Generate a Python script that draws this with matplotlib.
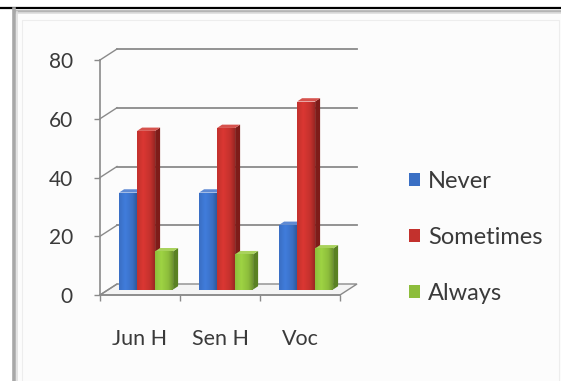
import numpy as np
import matplotlib
matplotlib.use("Agg")
import matplotlib.pyplot as plt
from matplotlib.patches import Polygon, Rectangle
from matplotlib.lines import Line2D
from matplotlib.colors import to_rgb

# ---- data ----
categories = ["Jun H", "Sen H", "Voc"]
series_names = ["Never", "Sometimes", "Always"]
never = [33, 33, 22]
sometimes = [54, 55, 64]
always = [13, 12, 14]
y_ticks = [0, 20, 40, 60, 80]

series_values = [never, sometimes, always]
series_colors = ["#3a6fc4", "#c3312d", "#8dbd3c"]
side_colors = ["#24498a", "#7e1c19", "#5a8123"]
top_colors = ["#5f8ad4", "#d6524d", "#a9d25c"]

W, H = 561, 381
fig = plt.figure(figsize=(W / 100, H / 100), dpi=100)
fig.patch.set_facecolor("white")

# ---- page frame (pixel overlay) ----
bg = fig.add_axes([0, 0, 1, 1], zorder=0)
bg.set_xlim(0, W)
bg.set_ylim(H, 0)
bg.axis("off")
bg.add_patch(Rectangle((16, 11), W - 16, H - 11, facecolor="#fcfcfc", edgecolor="none"))
bg.add_patch(Rectangle((22, 20), W - 24, H - 18, facecolor="none", edgecolor="#ededed", lw=0.8))
bg.add_line(Line2D([0, W], [7.5, 7.5], color="black", lw=1.6))
bg.add_line(Line2D([14, W], [10.5, 10.5], color="#b4b4b4", lw=2.0))
bg.add_line(Line2D([14, W], [12.5, 12.5], color="#dcdcdc", lw=1.2))
bg.add_line(Line2D([14, 14], [9, H], color="#a8a8a8", lw=2.6))
bg.add_line(Line2D([17, 17], [12, H], color="#dedede", lw=1.2))

# ---- plot axes: front plane of the 3-D box ----
x0_px, x1_px, y0_px, y1_px = 100, 340, 295, 60
ax = fig.add_axes([x0_px / W, 1 - y0_px / H, (x1_px - x0_px) / W, (y0_px - y1_px) / H], zorder=2)
ax.set_xlim(0, 3)
ax.set_ylim(0, 80)
ax.patch.set_alpha(0)

px_x = (x1_px - x0_px) / 3.0        # pixels per category
px_y = (y0_px - y1_px) / 80.0       # pixels per value unit
DX, DY = 17 / px_x, 11 / px_y       # depth of the box
grid_c = "#8a8a8a"

# floor
floor = Polygon([(0, 0), (3, 0), (3 + DX, DY), (DX, DY)], closed=True,
                facecolor="#f4f4f4", edgecolor=grid_c, lw=1.0, clip_on=False, zorder=1)
ax.add_patch(floor)
# back-wall gridlines and diagonals
for v in y_ticks[1:]:
    ax.plot([DX, 3 + DX], [v + DY, v + DY], color=grid_c, lw=1.3, clip_on=False, zorder=1)
for v in y_ticks:
    ax.plot([0, DX], [v, v + DY], color=grid_c, lw=1.0, clip_on=False, zorder=1)

# bars
bw = 0.225
bx, by = 0.5 * DX, 0.5 * DY
sx, sy = 5 / px_x, 3.3 / px_y
centers = np.arange(len(categories)) + 0.47
z = 3
for ci in range(len(categories)):
    for si, vals in enumerate(series_values):
        v = vals[ci]
        xl = centers[ci] + (si - 1.5) * bw + bx
        base = np.array(to_rgb(series_colors[si]))
        rect = ax.bar(xl, v, width=bw, bottom=by, align="edge", color=series_colors[si],
                      edgecolor="none", zorder=z, label=series_names[si] if ci == 0 else None)[0]
        # side and top faces
        ax.add_patch(Polygon([(xl + bw, by), (xl + bw + sx, by + sy), (xl + bw + sx, by + v + sy),
                              (xl + bw, by + v)], closed=True, facecolor=side_colors[si],
                             edgecolor="none", zorder=z, clip_on=False))
        ax.add_patch(Polygon([(xl, by + v), (xl + bw, by + v), (xl + bw + sx, by + v + sy),
                              (xl + sx, by + v + sy)], closed=True, facecolor=top_colors[si],
                             edgecolor="none", zorder=z, clip_on=False))
        # shaded front face
        t = np.linspace(0, 1, 40)
        shade = np.interp(t, [0, 0.35, 0.75, 1], [1.0, 1.12, 1.0, 0.8])
        grad = np.clip(base[None, :] * shade[:, None], 0, 1)[None, :, :]
        im = ax.imshow(grad, extent=[xl, xl + bw, by, by + v], aspect="auto",
                       zorder=z + 0.5, interpolation="bilinear")
        im.set_clip_path(rect)
        z += 1

ax.set_xlim(0, 3)
ax.set_ylim(0, 80)

# axes styling
for s in ["top", "right", "bottom"]:
    ax.spines[s].set_visible(False)
ax.spines["left"].set_color(grid_c)
ax.spines["left"].set_linewidth(1.2)
ax.plot([0, 3], [0, 0], color=grid_c, lw=1.2, clip_on=False, zorder=2)

txt_c = "#3a3a3a"
font = "Lato"
ax.set_yticks(y_ticks)
ax.set_yticklabels([str(v) for v in y_ticks], fontsize=15, color=txt_c, family=font)
ax.tick_params(axis="y", length=4, width=1.0, color=grid_c, pad=15.5)
ax.set_xticks([0.5, 1.5, 2.5])
ax.set_xticklabels(categories, fontsize=15.5, color=txt_c, family=font)
ax.set_xticks([0, 1, 2, 3], minor=True)
ax.tick_params(axis="x", which="major", length=0, pad=24.5)
ax.tick_params(axis="x", which="minor", length=4, width=1.0, color=grid_c)

# legend
handles, labels = ax.get_legend_handles_labels()
leg = fig.legend(handles, labels, loc="upper left", bbox_to_anchor=(409 / W, 1 - 171 / H),
                 frameon=False, prop={"family": font, "size": 17},
                 handlelength=0.47, handleheight=0.47, handletextpad=0.35,
                 labelspacing=1.48, borderpad=0, borderaxespad=0)
for t in leg.get_texts():
    t.set_color(txt_c)

fig.savefig("out.png", dpi=100)
